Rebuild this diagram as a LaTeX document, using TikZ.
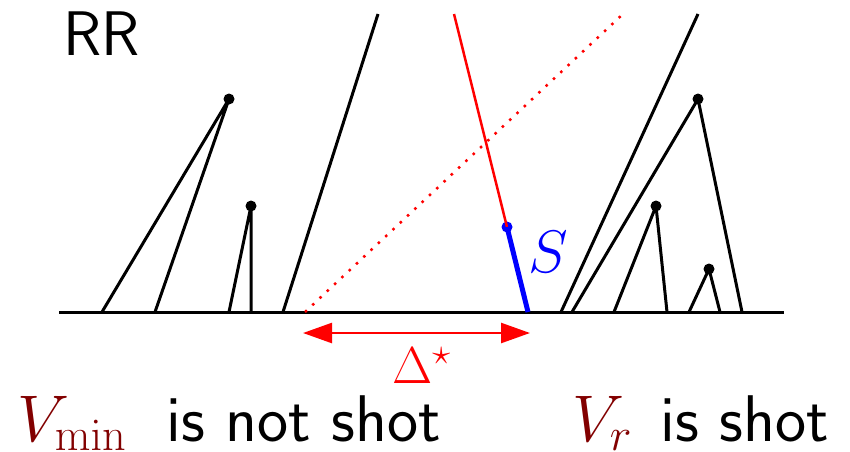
\RequirePackage{fix-cm}
\documentclass[tikz,border=0pt]{standalone}
\usetikzlibrary{arrows.meta}
\definecolor{vred}{RGB}{130,0,0}
\tikzset{
  edge/.style={line width=3pt,black,line join=round},
  dotnode/.style={circle,fill=black,inner sep=0pt,minimum size=11pt},
  bigtext/.style={font=\fontsize{63}{76}\selectfont\sffamily,inner sep=0pt},
  lowtext/.style={font=\fontsize{66}{78}\selectfont\sffamily,inner sep=0pt},
  shot/.style={red,line width=2.5pt},
  segS/.style={blue,line width=5pt},
  dottedred/.style={red,line width=2.5pt,dash pattern=on 2.5pt off 7.5pt},
  deltaarrow/.style={red,line width=2.5pt,{Triangle[length=29pt,width=20pt]}-{Triangle[length=29pt,width=20pt]}}
}
\begin{document}
\begin{tikzpicture}[x=1pt,y=-1pt]
\useasboundingbox (0,0) rectangle (850,451);
% ground line
\coordinate (gL) at (59,312);
\coordinate (gR) at (784,312);
\draw[edge] (gL) -- (gR);
% left trees
\node[dotnode] (a1) at (229,99) {};
\coordinate (a1l) at (102,312);
\coordinate (a1r) at (155,312);
\draw[edge] (a1l) -- (a1.center) -- (a1r);
\node[dotnode] (a2) at (251,206) {};
\coordinate (a2l) at (229,312);
\coordinate (a2r) at (251,312);
\draw[edge] (a2l) -- (a2.center) -- (a2r);
% tall line
\coordinate (t1b) at (283,312);
\coordinate (t1t) at (378,14);
\draw[edge] (t1b) -- (t1t);
% red dotted
\coordinate (db) at (305,312);
\coordinate (dt) at (624,13);
\draw[dottedred] (db) -- (dt);
% red shot and blue S
\coordinate (rt) at (454,14);
\node[circle,fill=blue,inner sep=0pt,minimum size=11pt] (sb) at (507,227) {};
\coordinate (sg) at (528,312);
\draw[shot] (rt) -- (sb.center);
\draw[segS] (sb.center) -- (sg);
\node[inner sep=0pt,text=blue,font=\fontsize{60}{72}\selectfont] (S) at (548,252) {$S$};
% right tall line
\coordinate (t2b) at (561,312);
\coordinate (t2t) at (698,14);
\draw[edge] (t2b) -- (t2t);
% right trees
\node[dotnode] (b1) at (698,99) {};
\coordinate (b1l) at (572,312);
\coordinate (b1r) at (742,312);
\draw[edge] (b1l) -- (b1.center) -- (b1r);
\node[dotnode] (b2) at (656,206) {};
\coordinate (b2l) at (614,312);
\coordinate (b2r) at (667,312);
\draw[edge] (b2l) -- (b2.center) -- (b2r);
\node[dotnode] (b3) at (709,269) {};
\coordinate (b3l) at (689,312);
\coordinate (b3r) at (720,312);
\draw[edge] (b3l) -- (b3.center) -- (b3r);
% delta arrow
\coordinate (dl) at (303,333);
\coordinate (dr) at (530,333);
\draw[deltaarrow] (dl) -- (dr);
\node[inner sep=0pt,text=red,font=\fontsize{52}{62}\selectfont,anchor=base west] (delta) at (392,383) {$\Delta^{\star}$};
% texts
\node[bigtext,anchor=base west] (RR) at (63,55) {RR};
\node[lowtext,anchor=base west] (t1) at (17,441) {\textcolor{vred}{$V_{\min}$}\hspace{0.3em} is not shot};
\node[lowtext,anchor=base west] (t2) at (572,441) {\textcolor{vred}{$V_{r}$}\hspace{0.12em} is shot};
\end{tikzpicture}
\end{document}
